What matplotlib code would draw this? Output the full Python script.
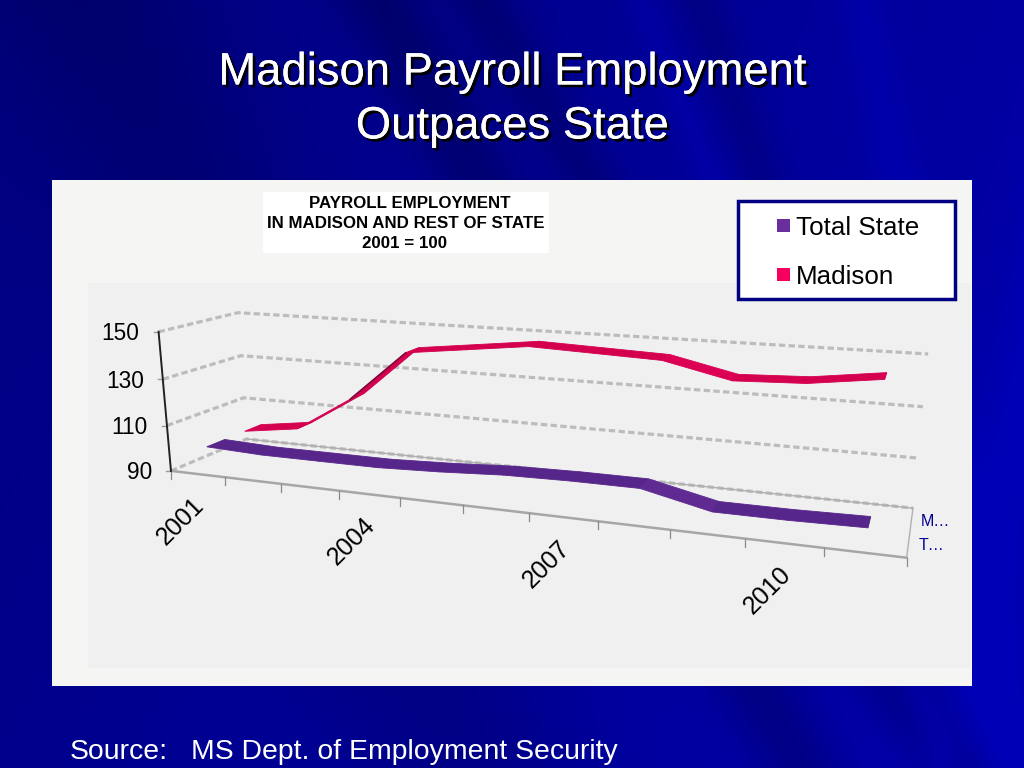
#!/usr/bin/env python3
import numpy as np
import matplotlib
matplotlib.use('Agg')
import matplotlib.pyplot as plt
import matplotlib.patheffects as pe
from matplotlib.patches import Rectangle, Polygon

plt.rcParams['font.family'] = ['Liberation Sans', 'DejaVu Sans']

years = [2001, 2002, 2003, 2004, 2005, 2006, 2007, 2008, 2009, 2010, 2011]
year_labels = {2001: '2001', 2004: '2004', 2007: '2007', 2010: '2010'}
total_state = [100, 99, 99, 99, 100, 101.5, 102, 102, 96, 96, 96.5]
madison = [100, 103.5, 119, 141, 144, 147, 146, 145, 139, 140, 143.5]
y_ticks = [90, 110, 130, 150]

# (category edge, value, depth) -> pixel, used to fit the 3d view of the chart
calib_box = [
    (0, 90, 0), (0, 110, 0), (0, 130, 0), (0, 150, 0),
    (0, 90, 1), (0, 110, 1), (0, 130, 1), (0, 150, 1),
    (11, 90, 1), (11, 110, 1), (11, 130, 1), (11, 150, 1),
]
calib_px = [
    (172, 470), (167, 424), (162, 379), (158, 332),
    (245, 439), (244, 397), (242, 356), (238, 313),
    (913, 508), (918, 458), (923, 407), (928, 354),
]
front_edge_x = [172, 225, 282, 339, 400, 463, 529, 598, 669, 746, 824, 907]
front_edge_y = [470, 477, 485, 492, 499, 506, 513, 522, 530, 538, 547, 557]
for i, (fx, fy) in enumerate(zip(front_edge_x, front_edge_y)):
    if i > 0:
        calib_box.append((i, 90, 0))
        calib_px.append((fx, fy))

rows = []
for (u, v, d), (px, py) in zip(calib_box, calib_px):
    X = [u, (v - 90) / 60, d, 1]
    rows.append(X + [0, 0, 0, 0] + [-px * a for a in X])
    rows.append([0, 0, 0, 0] + X + [-py * a for a in X])
P = np.linalg.svd(np.array(rows, float))[2][-1].reshape(3, 4)


def proj(u, v, d):
    w = P @ np.array([u, (v - 90) / 60, d, 1.0])
    return w[0] / w[2], w[1] / w[2]


fig = plt.figure(figsize=(10.24, 7.68), dpi=100)
ax = fig.add_axes([0, 0, 1, 1])
ax.axis('off')

# slide background
yy, xx = np.mgrid[0:768:2, 0:1024:2]
shade = 0.50 + 0.13 * xx / 1024 + 0.05 * yy / 768
for cx, slope, width, amt in [(380, 0.55, 45, -0.12), (480, 0.6, 35, -0.10), (700, 0.35, 25, -0.07),
                              (90, 0.5, 120, -0.08), (640, 0.4, 18, 0.05), (860, 0.2, 25, 0.05),
                              (1100, -0.2, 40, 0.06)]:
    shade = shade + amt * np.exp(-((xx - cx - slope * yy) / width) ** 2)
bg = np.zeros(xx.shape + (3,))
bg[..., 2] = np.clip(shade, 0.25, 0.72)
ax.imshow(bg, extent=(0, 1024, 768, 0), aspect='auto', zorder=0)
ax.set_xlim(0, 1024)
ax.set_ylim(768, 0)

shadow = [pe.withSimplePatchShadow(offset=(2, -2), shadow_rgbFace='black', alpha=1.0), pe.Normal()]
ax.text(512, 73, 'Madison Payroll Employment', color='white', fontsize=32.7, ha='center', va='center', path_effects=shadow)
ax.text(512, 127, 'Outpaces State', color='white', fontsize=32.7, ha='center', va='center', path_effects=shadow)
ax.text(70, 752, 'Source:', color='white', fontsize=20.4, va='center')
ax.text(191, 752, 'MS Dept. of Employment Security', color='white', fontsize=20.4, va='center')

# chart panel
ax.add_patch(Rectangle((52, 180), 920, 506, fc='#f5f5f4', ec='none', zorder=1))
ax.add_patch(Rectangle((88, 283), 882, 385, fc='#f0f0f1', ec='none', zorder=1))

ax.add_patch(Rectangle((263, 192), 286, 61, fc='white', ec='none', zorder=2))
for tx, ty, line in zip([410, 405.5, 405], [204, 223, 243], ['PAYROLL EMPLOYMENT', 'IN MADISON AND REST OF STATE', '2001 = 100']):
    ax.text(tx, ty, line, fontsize=12.2, fontweight='bold', ha='center', va='center', color='black', zorder=3)

# legend
ax.add_patch(Rectangle((738, 201), 217, 98, fc='white', ec='#000080', lw=2.5, zorder=2))
ax.add_patch(Rectangle((777, 219), 13, 13, fc='#6a2f9c', ec='none', zorder=3))
ax.add_patch(Rectangle((777, 268), 13, 13, fc='#f5005f', ec='none', zorder=3))
ax.text(796, 228, 'Total State', fontsize=18.7, va='center', color='black', zorder=3)
ax.text(796, 277, 'Madison', fontsize=18.7, va='center', color='black', zorder=3)

# walls and floor lines
n = len(years)
for v in y_ticks:
    x0, y0 = proj(0, v, 0)
    x1, y1 = proj(0, v, 1)
    x2, y2 = proj(n, v, 1)
    ax.plot([x0, x1, x2], [y0, y1, y2], color='#bcbcbc', lw=2.3, ls=(0, (2.0, 1.05)), zorder=3)
    ax.plot([x0 - 5, x0], [y0, y0], color='#9a9a9a', lw=1, zorder=3)
    ax.text(x0 - 19, y0 + 2, str(v), fontsize=16.3, ha='right', va='center', color='black', zorder=5)

p0 = proj(0, 90, 0)
p1 = proj(0, 150, 0)
ax.plot([p0[0], p1[0]], [p0[1], p1[1]], color='#222222', lw=1.4, zorder=4)
p2 = proj(n, 90, 0)
p3 = proj(n, 90, 1)
ax.plot([p0[0], p2[0]], [p0[1], p2[1]], color='#a6a6a6', lw=1.8, zorder=3)
ax.plot([p2[0], p3[0]], [p2[1], p3[1]], color='#b0b0b0', lw=1, zorder=3)
b0 = proj(0, 90, 1)
ax.plot([b0[0], p3[0]], [b0[1], p3[1]], color='#b0b0b0', lw=1, zorder=3)

for i in range(n + 1):
    tx, ty = proj(i, 90, 0)
    ax.plot([tx, tx], [ty, ty + 8], color='#8a8a8a', lw=0.9, zorder=3)

for i, yr in enumerate(years):
    if yr in year_labels:
        lx, ly = proj(i + 0.5, 90, 0)
        ax.text(lx - 6, ly + 19, year_labels[yr], fontsize=18, rotation=45,
                rotation_mode='anchor', ha='right', va='top', color='black', zorder=5)

ax.text(921, 521, 'M…', fontsize=11.5, color='#000090', va='center', zorder=5)
ax.text(919, 545, 'T…', fontsize=11.5, color='#000090', va='center', zorder=5)


def ribbon(values, depth, color, dark, half=0.115):
    for i in range(len(values) - 1):
        a = proj(i + 0.5, values[i], depth - half)
        b = proj(i + 1.5, values[i + 1], depth - half)
        c = proj(i + 1.5, values[i + 1], depth + half)
        d = proj(i + 0.5, values[i], depth + half)
        fc = dark if values[i + 1] < values[i] - 3 else color
        ax.add_patch(Polygon([a, b, c, d], closed=True, fc=fc, ec=fc, lw=0.6, zorder=6))
        if values[i + 1] > values[i] + 20:
            ax.plot([a[0], b[0]], [a[1], b[1]], color='#7a0a3a', lw=1.2, zorder=7)


ribbon(total_state, 0.25, '#57268a', '#5f2b92')
ribbon(madison, 0.75, '#d4004f', '#dc0055')

fig.savefig('out.png', dpi=100)
